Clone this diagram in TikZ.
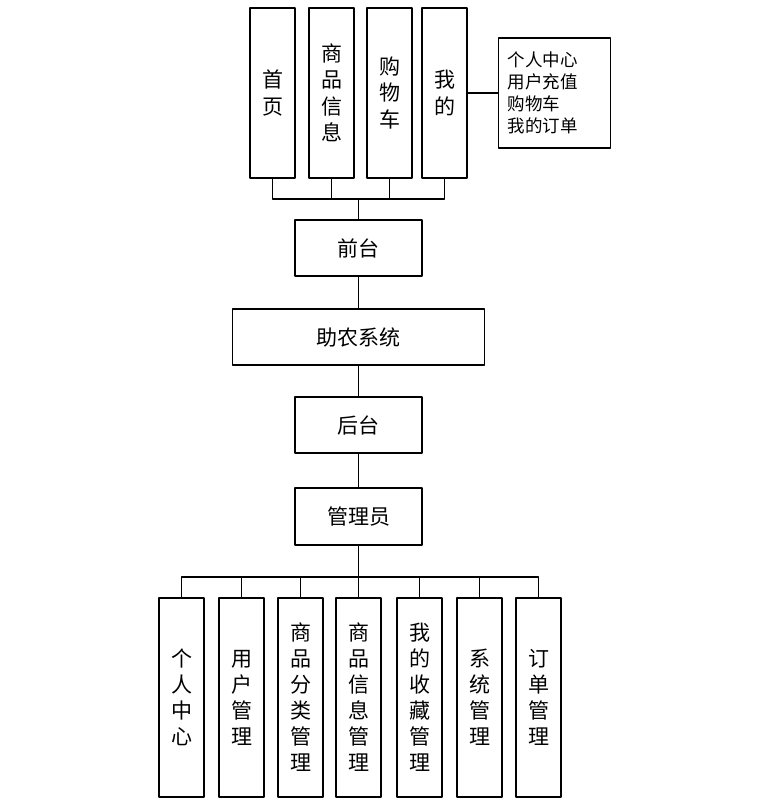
\documentclass[tikz,border=0pt]{standalone}
\usepackage{fontspec}
\newfontfamily\cjk{Noto Sans CJK SC}
\begin{document}
\begin{tikzpicture}[x=1pt,y=-1pt,line width=1.2pt,line join=round,
	vbox/.style={draw,minimum width=45pt,minimum height=170pt,inner sep=0pt,align=center,font=\cjk\fontsize{21}{26.5}\selectfont},
	lbox/.style={draw,minimum width=45pt,minimum height=199pt,inner sep=0pt,align=center,font=\cjk\fontsize{21}{26}\selectfont},
	hbox/.style={draw,minimum width=127pt,minimum height=56pt,inner sep=0pt,font=\cjk\fontsize{21}{26}\selectfont}]
			\useasboundingbox (0,0) rectangle (761,800);
			% front end
			\node[vbox] (home) at (272.5,93) {首\\页};
			\node[vbox] (goods) at (331.5,93) {商\\品\\信\\息};
			\node[vbox] (cart) at (389.5,93) {购\\物\\车};
			\node[vbox] (mine) at (444.5,93) {我\\的};
			\node[draw,text width=94pt,minimum height=110pt,inner xsep=9pt,inner ysep=0pt,align=left,font=\cjk\fontsize{17.5}{22}\selectfont] (minelist) at (554.5,93) {个人中心\\用户充值\\购物车\\我的订单};
			\node[hbox] (front) at (358.5,248) {前台};
			\node[hbox,minimum width=252pt] (sys) at (358.5,337) {助农系统};
			\node[hbox] (back) at (358.5,425) {后台};
			\node[hbox,minimum height=57pt] (admin) at (358.5,516.5) {管理员};
			% back end
			\node[lbox] (center) at (181.5,697.5) {个\\人\\中\\心};
			\node[lbox] (user) at (241.5,697.5) {用\\户\\管\\理};
			\node[lbox] (cate) at (300.5,697.5) {商\\品\\分\\类\\管\\理};
			\node[lbox] (info) at (358.5,697.5) {商\\品\\信\\息\\管\\理};
			\node[lbox] (fav) at (419.5,697.5) {我\\的\\收\\藏\\管\\理};
			\node[lbox] (sysm) at (479.5,697.5) {系\\统\\管\\理};
			\node[lbox] (order) at (538.5,697.5) {订\\单\\管\\理};
			% connectors
			\coordinate (top) at (358.5,199);
			\foreach \n in {home,goods,cart,mine}
			\draw (\n.south) |- (top);
			\draw (top) -- (front.north);
			\draw (mine.east) -- (minelist.west);
			\draw (front) -- (sys);
			\draw (sys) -- (back);
			\draw (back) -- (admin);
			\coordinate (bot) at (358.5,577);
			\draw (admin.south) -- (bot);
			\foreach \n in {center,user,cate,info,fav,sysm,order}
			\draw (\n.north) |- (bot);
\end{tikzpicture}
\end{document}
